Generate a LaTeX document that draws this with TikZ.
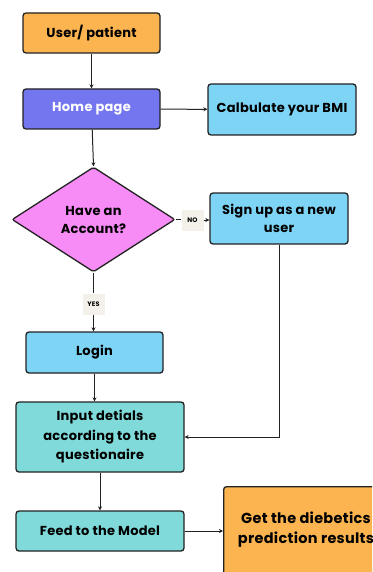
\documentclass[tikz,border=0pt]{standalone}
\usepackage{fontspec}
\setmainfont{Poppins}[BoldFont={Poppins Bold}, LetterSpace=2]
\usetikzlibrary{shapes.geometric,arrows.meta}
\definecolor{corange}{HTML}{FBB44F}
\definecolor{cpurple}{HTML}{7476F0}
\definecolor{cblue}{HTML}{7DD4F5}
\definecolor{cteal}{HTML}{80DADA}
\definecolor{cpink}{HTML}{F78CF7}
\definecolor{clab}{HTML}{F3F1E9}
\definecolor{cline}{HTML}{222222}
\tikzset{
  box/.style={draw=cline, line width=1.3pt, rounded corners=3pt, align=center, font=\bfseries\fontsize{13}{14}\selectfont, inner sep=0pt},
  conn/.style={draw=cline, line width=1pt, -{Stealth[length=4pt,width=4pt]}},
  lab/.style={fill=clab, font=\bfseries\fontsize{6.5}{8}\selectfont, inner sep=0pt, minimum width=22pt, minimum height=21pt}
}
\begin{document}
\begin{tikzpicture}[x=1pt,y=-1pt]
\fill[white] (0,0) rectangle (372,572);
\useasboundingbox (0,0) rectangle (372,572);
\clip (0,0) rectangle (372,572);
\node[box, fill=corange, minimum width=137pt, minimum height=40pt] (user) at (91.5,33) {User/ patient};
\node[box, fill=cpurple, text=white, minimum width=137pt, minimum height=40pt] (home) at (91.5,109) {Home page};
\node[box, fill=cblue, minimum width=148pt, minimum height=51pt] (bmi) at (282,109.5) {Calbulate your BMI};
\node[diamond, draw=cline, line width=1.3pt, fill=cpink, rounded corners=2pt, minimum width=163pt, minimum height=105pt, inner sep=0pt, align=center, font=\bfseries\fontsize{13}{18}\selectfont, aspect=1.55] (acc) at (93.5,219.5) {Have an\\Account?};
\node[box, fill=cblue, minimum width=138pt, minimum height=51pt, font=\bfseries\fontsize{13}{18}\selectfont] (sign) at (279,218.5) {Sign up as a new\\user};
\node[box, fill=cblue, minimum width=137pt, minimum height=41pt] (login) at (94.5,352.5) {Login};
\node[box, fill=cteal, minimum width=168pt, minimum height=70pt, font=\bfseries\fontsize{13}{19.5}\selectfont] (input) at (100,437) {Input detials\\according to the\\questionaire};
\node[box, fill=cteal, minimum width=168pt, minimum height=40pt] (feed) at (100,531) {Feed to the Model};
\node[box, fill=corange, minimum width=170pt, minimum height=110pt, anchor=north west, text width=160pt] (get) at (223,486) {};
\node[font=\bfseries\fontsize{14.5}{20}\selectfont, align=center] (gett) at (306,530) {Get the diebetics\\prediction results};
\coordinate (corner) at (sign.south |- input.east);
\draw[conn] (user) -- (home);
\draw[conn] (home) -- (bmi);
\draw[conn] (home) -- (acc.north);
\draw[draw=cline, line width=1pt] (acc.east) -- (181,219.5);
\node[lab] (no) at (192.5,220) {NO};
\draw[conn] (no.east) -- (sign.west |- no.east);
\draw[draw=cline, line width=1pt] (acc.south) -- (93.5,293);
\node[lab] (yes) at (93.5,304) {YES};
\draw[conn] (yes.south) -- (login.north -| yes.south);
\draw[conn] (login) -- (login.south |- input.north);
\draw[conn] (sign.south) -- (corner) -- (input.east);
\draw[conn] (input) -- (feed);
\draw[conn] (feed) -- (get.west |- feed.east);
\end{tikzpicture}
\end{document}
